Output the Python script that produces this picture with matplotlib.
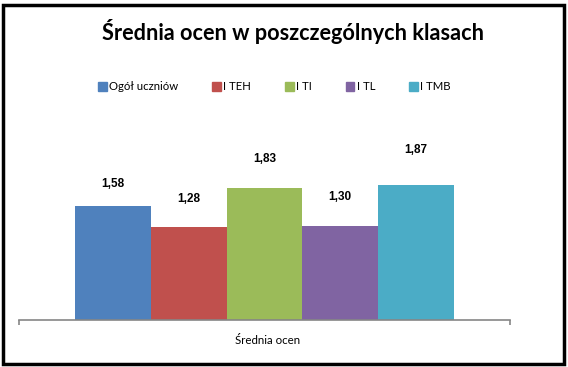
import numpy as np
import matplotlib.pyplot as plt
from matplotlib.patches import Rectangle, Patch

# dane
klasy = ["Ogół uczniów", "I TEH", "I TI", "I TL", "I TMB"]
srednie = [1.58, 1.28, 1.83, 1.30, 1.87]
etykiety = ["1,58", "1,28", "1,83", "1,30", "1,87"]
kategoria = "Średnia ocen"

kolory = ["#4F81BD", "#C0504D", "#9BBB59", "#8064A2", "#4BACC6"]
# przesuniecie etykiet nad słupkami (w punktach)
odstep = [11, 16, 16.5, 16.5, 21]

W, H = 568, 367
fig = plt.figure(figsize=(W / 100, H / 100), dpi=100)

# obszar wykresu (w pikselach: x 19..510, y 132..320)
ax = fig.add_axes([19 / W, (H - 320) / H, (510 - 19) / W, (320 - 132) / H])

szer = 0.77 / len(srednie)
pozycje = (np.arange(len(srednie)) - (len(srednie) - 1) / 2) * szer
for i, (x, v) in enumerate(zip(pozycje, srednie)):
    ax.bar(x, v, width=szer, color=kolory[i])
    ax.annotate(etykiety[i], (x, v), xytext=(0, odstep[i]),
                textcoords="offset points", ha="center", va="bottom",
                fontsize=8.5, fontweight="bold", family="Liberation Sans")

ax.set_xlim(-0.5, 0.5)
ax.set_ylim(0, 2.6)
for s in ["top", "right", "left"]:
    ax.spines[s].set_visible(False)
ax.spines["bottom"].set_color("#868686")
ax.spines["bottom"].set_linewidth(1.2)
ax.set_yticks([])
ax.set_xticks([-0.5, 0.5])
ax.set_xticklabels(["", ""])
ax.tick_params(axis="x", direction="out", length=3.5, color="#868686", width=1.2)
ax.patch.set_visible(False)

fig.text(268 / W, 1 - 340 / H, kategoria, ha="center", va="center",
         fontsize=8.3, family="Lato")

fig.text(293.5 / W, 1 - 31 / H, "Średnia ocen w poszczególnych klasach",
         ha="center", va="center", fontsize=15.6, fontweight="bold", family="Lato")

uchwyty = [Patch(color=k) for k in kolory]
fig.legend(uchwyty, klasy, loc="center", bbox_to_anchor=(274.5 / W, 1 - 87 / H),
           ncol=5, frameon=False, handlelength=0.75, handleheight=0.75,
           handletextpad=0.2, columnspacing=3.0, prop={"family": "Lato", "size": 8.2})

# ramka wokół wykresu
fig.patches.append(Rectangle((3 / W, 3 / H), 561 / W, 359 / H, fill=False,
                             edgecolor="black", linewidth=2.5,
                             transform=fig.transFigure, figure=fig))

fig.savefig("out.png", dpi=100)
